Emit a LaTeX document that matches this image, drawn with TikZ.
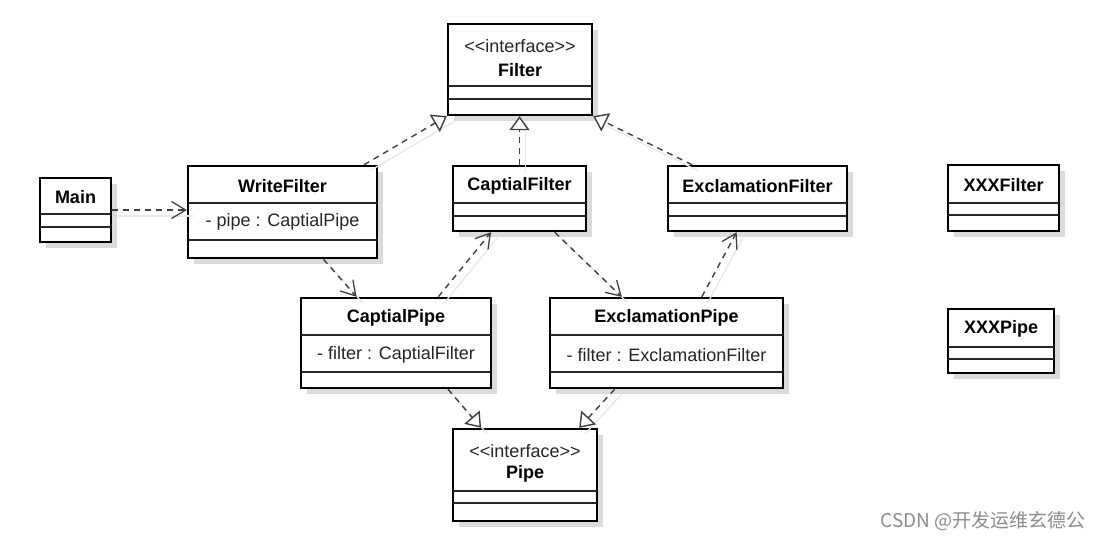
\documentclass[tikz,border=0pt]{standalone}
\usepackage{fontspec}
\setmainfont{Liberation Sans}
\newfontfamily\cjkfont{Noto Sans CJK SC}
\usetikzlibrary{arrows.meta,calc,fit}

\tikzset{
  umlbox/.style={draw=black, line width=2.4pt, fill=white, inner sep=0pt},
  umlshadow/.style={fill=black!14},
  umlsep/.style={draw=black!85, line width=1.3pt},
  umltitle/.style={font=\fontsize{18}{20}\selectfont\bfseries, inner sep=0pt},
  umltext/.style={font=\fontsize{18}{20}\selectfont, text=black!85, inner sep=0pt},
  ghost/.style={preaction={draw=black!9, solid, line width=1.3pt, -,
    transform canvas={shift={(6pt,-6pt)}}}},
  depend/.style={ghost, draw=black!75, line width=1.4pt, dash pattern=on 6pt off 5pt,
    -{Straight Barb[length=14pt,width=17pt,line width=1.3pt]}},
  realize/.style={ghost, draw=black!75, line width=1.4pt, dash pattern=on 6pt off 5pt,
    -{Triangle[length=14pt,width=20pt,fill=white,line width=1.4pt]}},
}

% class box: name, left, top, right, bottom, first and second separator
\newcommand{\umlclass}[7]{%
  \fill[umlshadow] (#2+6,#3+6) rectangle (#4+6,#5+6);
  \node[umlbox, fit={(#2,#3) (#4,#5)}] (#1) {};
  \draw[umlsep] (#2,#6) -- (#4,#6);
  \draw[umlsep] (#2,#7) -- (#4,#7);
}

\begin{document}
\begin{tikzpicture}[x=1pt,y=-1pt]
\fill[white] (0,0) rectangle (1099,539);
\useasboundingbox (0,0) rectangle (1099,539);

% classes
\umlclass{filter}{448}{24}{592}{115}{86}{99}
\umlclass{main}{40}{178}{111}{242}{214}{227}
\umlclass{wfilter}{188}{166}{377}{258}{203}{240}
\umlclass{cfilter}{453}{166}{586}{231}{203}{216}
\umlclass{efilter}{668}{166}{847}{231}{203}{216}
\umlclass{xfilter}{948}{165}{1059}{231}{203}{215}
\umlclass{cpipe}{301}{298}{491}{388}{335}{372}
\umlclass{epipe}{550}{298}{783}{388}{335}{372}
\umlclass{xpipe}{948}{309}{1054}{373}{347}{359}
\umlclass{pipe}{453}{429}{597}{521}{491}{503}

% labels
\node[umltext] (filterst) at (520,46) {<{}<interface>{}>};
\node[umltitle] (filtert) at (520,70) {Filter};
\node[umltitle] (maint) at (75.5,197) {Main};
\node[umltitle] (wfiltert) at (282.5,186) {WriteFilter};
\node[umltext] (wfiltera) at (282.5,222) {- pipe : CaptialPipe};
\node[umltitle] (cfiltert) at (519.5,186) {CaptialFilter};
\node[umltitle] (efiltert) at (757.5,186) {ExclamationFilter};
\node[umltitle] (xfiltert) at (1003.5,185) {XXXFilter};
\node[umltitle] (cpipet) at (396,318) {CaptialPipe};
\node[umltext] (cpipea) at (396,355) {- filter : CaptialFilter};
\node[umltitle] (epipet) at (666.5,318) {ExclamationPipe};
\node[umltext] (epipea) at (666.5,355) {- filter : ExclamationFilter};
\node[umltitle] (xpipet) at (1001,329) {XXXPipe};
\node[umltext] (pipest) at (525,451) {<{}<interface>{}>};
\node[umltitle] (pipet) at (525,474) {Pipe};

% realizations
\draw[realize] ($(wfilter.north west)!0.926!(wfilter.north east)$) -- (filter.south west);
\draw[realize] (cfilter.north) -- (cfilter.north |- filter.south);
\draw[realize] ($(efilter.north west)!0.14!(efilter.north east)$) -- (filter.south east);
\draw[realize] ($(cpipe.south west)!0.77!(cpipe.south east)$) -- ($(pipe.north west)!0.2!(pipe.north east)$);
\draw[realize] ($(epipe.south west)!0.28!(epipe.south east)$) -- ($(pipe.north west)!0.87!(pipe.north east)$);

% dependencies
\draw[depend] (main.east) -- (main.east -| wfilter.west);
\draw[depend] ($(wfilter.south west)!0.714!(wfilter.south east)$) -- ($(cpipe.north west)!0.295!(cpipe.north east)$);
\draw[depend] ($(cpipe.north west)!0.72!(cpipe.north east)$) -- ($(cfilter.south west)!0.29!(cfilter.south east)$);
\draw[depend] ($(cfilter.south west)!0.76!(cfilter.south east)$) -- ($(epipe.north west)!0.31!(epipe.north east)$);
\draw[depend] ($(epipe.north west)!0.65!(epipe.north east)$) -- ($(efilter.south west)!0.385!(efilter.south east)$);

\node[font=\cjkfont\fontsize{19}{20}\selectfont, text=black!45, anchor=east, inner sep=0pt] (mark) at (1086,521) {CSDN @开发运维玄德公};
\end{tikzpicture}
\end{document}
